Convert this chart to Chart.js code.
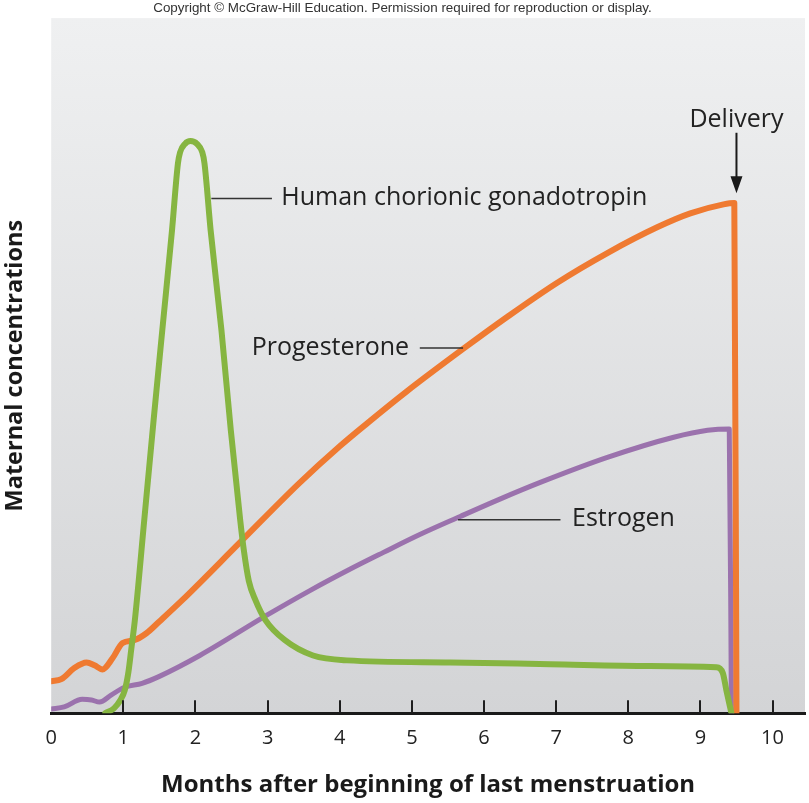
<!DOCTYPE html>
<html>
<head>
<meta charset="utf-8">
<script src="https://cdn.jsdelivr.net/npm/chart.js@4.4.0/dist/chart.umd.min.js"></script>
<style>
  html, body { margin: 0; padding: 0; background: #fff; }
</style>
</head>
<body>
<canvas id="myChart" width="809" height="803"></canvas>
<script>
// x = months after beginning of last menstruation, y = relative concentration (0-100)
const xTicks = [0, 1, 2, 3, 4, 5, 6, 7, 8, 9, 10];

const hcgX = [0.75, 0.87, 0.96, 1.02, 1.07, 1.11, 1.16, 1.29, 1.42, 1.54, 1.675, 1.757, 1.787, 1.854, 1.931, 2.021, 2.094, 2.125, 2.21, 2.36, 2.49, 2.62, 2.67, 2.74, 2.83, 2.97, 3.24, 3.63, 4.1, 5.53, 6.92, 8.3, 9.22, 9.31, 9.36, 9.43];
const hcgY = [0, 0.7, 1.9, 3.3, 5.9, 9.2, 13.4, 27.8, 42.2, 55.1, 69.5, 79.1, 80.7, 81.9, 82.3, 81.9, 80.7, 79.1, 69.5, 55.1, 40.7, 27.8, 23.5, 19.0, 16.3, 13.4, 10.5, 8.3, 7.6, 7.3, 7.05, 6.8, 6.6, 5.8, 3.3, 0];

const progX = [0, 0.14, 0.32, 0.49, 0.6, 0.71, 0.85, 0.99, 1.15, 1.32, 1.5, 1.82, 2.61, 3.44, 4.0, 4.38, 4.93, 5.71, 6.32, 7.01, 7.71, 8.4, 8.86, 9.32, 9.47, 9.5];
const progY = [4.6, 4.9, 6.5, 7.3, 6.9, 6.3, 7.9, 10.1, 10.5, 11.5, 13.2, 16.3, 24.5, 33.1, 38.4, 41.7, 46.3, 52.4, 57.0, 61.9, 66.2, 69.9, 71.9, 73.2, 73.4, 0];

const estX = [0, 0.18, 0.43, 0.56, 0.67, 0.83, 1.01, 1.26, 1.5, 2.06, 2.99, 3.58, 4.14, 4.6, 5.11, 5.67, 6.22, 6.78, 7.71, 8.63, 9.1, 9.4, 9.43];
const estY = [0.6, 0.9, 2.0, 1.9, 1.6, 2.6, 3.7, 4.3, 5.3, 8.3, 14.1, 17.6, 20.7, 23.1, 25.7, 28.3, 30.8, 33.2, 36.8, 39.7, 40.7, 40.9, 0];

// curve labels with leader lines (data coordinates)
const notes = [
  { text: 'Human chorionic gonadotropin', x: 3.19, y: 74.1, from: 2.22, to: 3.06 },
  { text: 'Progesterone', x: 2.78, y: 52.6, from: 5.11, to: 5.71 },
  { text: 'Estrogen', x: 7.22, y: 27.9, from: 5.64, to: 7.06 }
];
const delivery = { text: 'Delivery', x: 9.5, y: 85.3, arrowTop: 83.5, arrowTip: 74.8 };

const pts = (xs, ys) => xs.map((x, i) => ({ x: x, y: ys[i] }));
const FONT = "'Open Sans', sans-serif";

const decor = {
  id: 'decor',
  beforeDraw(chart) {
    const { ctx, chartArea: a } = chart;
    const g = ctx.createLinearGradient(0, a.top, 0, a.bottom);
    g.addColorStop(0, '#eff0f1');
    g.addColorStop(1, '#d3d4d6');
    ctx.save();
    ctx.fillStyle = g;
    ctx.fillRect(a.left, a.top, a.right - a.left, a.bottom - a.top);
    ctx.restore();
  },
  afterDatasetsDraw(chart) {
    const { ctx, chartArea: a, scales: { x, y } } = chart;
    ctx.save();
    // tick marks point up into the plot
    ctx.strokeStyle = '#1e1e1e';
    ctx.lineWidth = 2;
    xTicks.forEach(v => {
      if (v === 0) return;
      const px = Math.round(x.getPixelForValue(v));
      ctx.beginPath();
      ctx.moveTo(px, a.bottom);
      ctx.lineTo(px, a.bottom - 13);
      ctx.stroke();
    });
    // labels + leader lines
    ctx.fillStyle = '#222';
    ctx.strokeStyle = '#333';
    ctx.lineWidth = 1.5;
    ctx.font = '25px ' + FONT;
    ctx.textBaseline = 'middle';
    ctx.textAlign = 'left';
    notes.forEach(n => {
      ctx.fillText(n.text, x.getPixelForValue(n.x), y.getPixelForValue(n.y));
      ctx.beginPath();
      const ly = y.getPixelForValue(n.y) + 0.5;
      ctx.moveTo(x.getPixelForValue(n.from), ly);
      ctx.lineTo(x.getPixelForValue(n.to), ly);
      ctx.stroke();
    });
    // delivery arrow
    const dx = x.getPixelForValue(delivery.x);
    ctx.textAlign = 'center';
    ctx.fillText(delivery.text, dx, y.getPixelForValue(delivery.y));
    const top = y.getPixelForValue(delivery.arrowTop);
    const tip = y.getPixelForValue(delivery.arrowTip);
    ctx.strokeStyle = '#1a1a1a';
    ctx.lineWidth = 2;
    ctx.beginPath();
    ctx.moveTo(dx, top);
    ctx.lineTo(dx, tip - 12);
    ctx.stroke();
    ctx.fillStyle = '#1a1a1a';
    ctx.beginPath();
    ctx.moveTo(dx - 6, tip - 17);
    ctx.lineTo(dx + 6, tip - 17);
    ctx.lineTo(dx, tip);
    ctx.closePath();
    ctx.fill();
    ctx.restore();
  }
};

const ctx = document.getElementById('myChart').getContext('2d');
new Chart(ctx, {
  type: 'line',
  data: {
    datasets: [
      { label: 'Human chorionic gonadotropin', data: pts(hcgX, hcgY), borderColor: '#86b541', borderWidth: 6, order: 1 },
      { label: 'Progesterone', data: pts(progX, progY), borderColor: '#ef7a31', borderWidth: 6, order: 2 },
      { label: 'Estrogen', data: pts(estX, estY), borderColor: '#9b72ad', borderWidth: 5, order: 3 }
    ]
  },
  options: {
    responsive: false,
    animation: false,
    elements: {
      point: { radius: 0 },
      line: { cubicInterpolationMode: 'monotone', borderCapStyle: 'round', borderJoinStyle: 'round' }
    },
    layout: { padding: { left: 0, right: 4, top: 0, bottom: 0 } },
    plugins: {
      legend: { display: false },
      tooltip: { enabled: false },
      title: {
        display: true,
        text: 'Copyright © McGraw-Hill Education. Permission required for reproduction or display.',
        font: { family: "'Liberation Sans', Arial, sans-serif", size: 13.4, weight: 'normal' },
        color: '#333',
        padding: { top: 0, bottom: 2 }
      }
    },
    scales: {
      x: {
        type: 'linear',
        min: 0,
        max: 10.45,
        afterBuildTicks: s => { s.ticks = xTicks.map(v => ({ value: v })); },
        grid: { display: false, drawTicks: false },
        border: { display: true, color: '#1a1a1a', width: 3 },
        ticks: { padding: 13, color: '#222', font: { family: FONT, size: 20 } },
        title: {
          display: true,
          text: 'Months after beginning of last menstruation',
          color: '#1a1a1a',
          font: { family: FONT, size: 24, weight: 'bold' },
          padding: { top: 8, bottom: 3 }
        }
      },
      y: {
        min: 0,
        max: 100,
        grid: { display: false, drawTicks: false },
        border: { display: false },
        ticks: { display: false },
        title: {
          display: true,
          text: 'Maternal concentrations',
          color: '#1a1a1a',
          font: { family: FONT, size: 23.5, weight: 'bold' },
          padding: { top: 1, bottom: 22 }
        }
      }
    }
  },
  plugins: [decor]
});
</script>
</body>
</html>
